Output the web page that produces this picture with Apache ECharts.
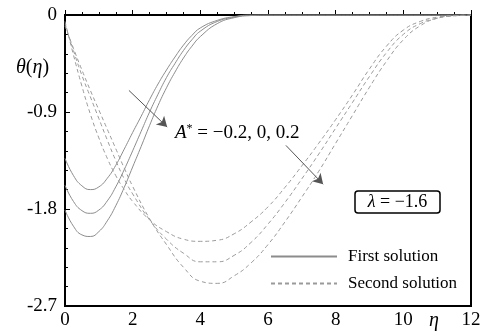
<!DOCTYPE html>
<html><head><meta charset="utf-8">
<script src="https://cdn.jsdelivr.net/npm/echarts@6/dist/echarts.min.js"></script>
<style>html,body{margin:0;padding:0;background:#fff}#c{width:489px;height:335px}</style>
</head><body><div id="c"></div>
<script>
// eta grid for first (solid) solution
const etaFirst = [0,0.25,0.5,0.75,1,1.25,1.5,1.75,2,2.25,2.5,2.75,3,3.25,3.5,3.75,4,4.5,5,5.5,6,7,8,9,10,11,12];
const firstAm02 = [-1.33,-1.49,-1.585,-1.62,-1.595,-1.515,-1.395,-1.245,-1.09,-0.94,-0.785,-0.64,-0.51,-0.39,-0.28,-0.19,-0.12,-0.05,-0.015,0,0,0,0,0,0,0,0];
const firstA0   = [-1.58,-1.73,-1.815,-1.84,-1.81,-1.725,-1.595,-1.435,-1.26,-1.08,-0.90,-0.735,-0.58,-0.45,-0.33,-0.23,-0.15,-0.06,-0.02,0,0,0,0,0,0,0,0];
const firstAp02 = [-1.81,-1.96,-2.04,-2.055,-2.01,-1.91,-1.77,-1.60,-1.41,-1.22,-1.025,-0.84,-0.675,-0.53,-0.40,-0.29,-0.20,-0.08,-0.025,-0.005,0,0,0,0,0,0,0];
// eta grid for second (dashed) solution
const etaSecond = [0,0.25,0.5,0.75,1,1.25,1.5,1.75,2,2.5,3,3.5,4,4.5,5,5.5,6,6.5,7,7.5,8,8.5,9,9.5,10,10.5,11,11.5,12];
const secondAm02 = [-0.06,-0.37,-0.66,-0.92,-1.14,-1.33,-1.49,-1.62,-1.73,-1.90,-2.01,-2.08,-2.10,-2.09,-2.03,-1.92,-1.78,-1.60,-1.40,-1.19,-0.97,-0.74,-0.50,-0.29,-0.14,-0.06,-0.02,-0.005,0];
const secondA0   = [-0.08,-0.33,-0.56,-0.76,-0.96,-1.16,-1.35,-1.52,-1.66,-1.90,-2.08,-2.21,-2.29,-2.29,-2.23,-2.11,-1.94,-1.74,-1.52,-1.29,-1.05,-0.81,-0.57,-0.35,-0.18,-0.08,-0.03,-0.007,0];
const secondAp02 = [-0.10,-0.31,-0.51,-0.70,-0.88,-1.06,-1.24,-1.42,-1.59,-1.89,-2.13,-2.34,-2.47,-2.49,-2.42,-2.30,-2.13,-1.92,-1.69,-1.45,-1.19,-0.93,-0.67,-0.43,-0.23,-0.10,-0.03,-0.008,0];
// annotation arrows in data coordinates [eta, theta]
const arrow1 = [[1.89,-0.70],[3.02,-1.04]];
const arrow2 = [[6.53,-1.21],[7.63,-1.57]];
const xTicks = [0,2,4,6,8,10,12];
const yTicks = [0,-0.9,-1.8,-2.7];

const zip = (xs, ys) => xs.map((x,i)=>[x,ys[i]]);
const FONT = 'Liberation Serif';
const solidStyle = {color:'#8c8c8c', width:1, type:'solid'};
const dashStyle = {color:'#9a9a9a', width:1, type:[4,3]};
function mk(name, xs, ys, style, extra){
  return Object.assign({name, type:'line', data:zip(xs,ys), showSymbol:false, symbol:'none',
    smooth:0.5, lineStyle:style, itemStyle:{color:style.color}, silent:true, z:2}, extra||{});
}
const arrowML = (pts) => ({symbol:['none','arrow'], symbolSize:[9,10], silent:true, label:{show:false},
  lineStyle:{color:'#555', width:1, type:'solid'}, itemStyle:{color:'#000'},
  data:[[{coord:pts[0]},{coord:pts[1]}]]});

const chart = echarts.init(document.getElementById('c'), null, {renderer:'canvas'});
chart.setOption({
  animation:false,
  backgroundColor:'#fff',
  grid:{left:65, right:18, top:15, bottom:29, show:true, borderColor:'#000', borderWidth:2, backgroundColor:'transparent'},
  xAxis:{type:'value', min:0, max:12, interval:2,
    axisLine:{show:true, lineStyle:{color:'#000', width:2}},
    axisTick:{show:true, inside:true, length:5, lineStyle:{color:'#000'}},
    minorTick:{show:true, splitNumber:4, length:3, lineStyle:{color:'#000'}},
    splitLine:{show:false},
    axisLabel:{color:'#000', fontFamily:FONT, fontSize:19, margin:5,
      formatter:(v)=> xTicks.includes(v) ? String(v) : ''}},
  yAxis:{type:'value', min:-2.7, max:0, interval:0.9,
    axisLine:{show:true, lineStyle:{color:'#000', width:2}},
    axisTick:{show:true, inside:true, length:5, lineStyle:{color:'#000'}},
    minorTick:{show:true, splitNumber:5, length:3, lineStyle:{color:'#000'}},
    splitLine:{show:false},
    axisLabel:{color:'#000', fontFamily:FONT, fontSize:19, margin:8,
      formatter:(v)=>{const r=Math.round(v*10)/10; return yTicks.includes(r)? String(r):'';}}},
  legend:{show:true, orient:'vertical', left:265, top:243, itemWidth:66, itemHeight:10, itemGap:10,
    data:['First solution','Second solution'], selectedMode:false,
    itemStyle:{opacity:0, borderWidth:0},
    textStyle:{color:'#000', fontFamily:FONT, fontSize:17, padding:[0,0,0,6]}},
  series:[
    mk('First solution', etaFirst, firstAm02, solidStyle, {markLine:arrowML(arrow1)}),
    mk('First solution', etaFirst, firstA0, solidStyle),
    mk('First solution', etaFirst, firstAp02, solidStyle),
    mk('Second solution', etaSecond, secondAm02, dashStyle, {markLine:arrowML(arrow2)}),
    mk('Second solution', etaSecond, secondA0, dashStyle),
    mk('Second solution', etaSecond, secondAp02, dashStyle)
  ],
  graphic:[
    {type:'text', left:16, top:58, style:{text:'{i|θ}{n|(}{i|η}{n|)}', fill:'#000',
      rich:{i:{fontFamily:FONT, fontStyle:'italic', fontSize:20}, n:{fontFamily:FONT, fontSize:20}}}},
    {type:'text', left:429, top:311, style:{text:'η', fill:'#000', fontFamily:FONT, fontStyle:'italic', fontSize:20}},
    {type:'text', left:175, top:123, style:{text:'{i|A}{s|*}{n| = −0.2, 0, 0.2}', fill:'#000',
      rich:{i:{fontFamily:FONT, fontStyle:'italic', fontSize:19}, s:{fontFamily:FONT, fontSize:12, verticalAlign:'top', padding:[0,0,8,0]}, n:{fontFamily:FONT, fontSize:19}}}},
    {type:'rect', shape:{x:355, y:191, width:85, height:22, r:3}, style:{fill:'#fff', stroke:'#000', lineWidth:1.5}, z:10},
    {type:'text', x:397.5, y:202, z:11, style:{text:'{i|λ}{n| = −1.6}', align:'center', verticalAlign:'middle', fill:'#000',
      rich:{i:{fontFamily:FONT, fontStyle:'italic', fontSize:18}, n:{fontFamily:FONT, fontSize:18}}}}
  ]
});
</script></body></html>
